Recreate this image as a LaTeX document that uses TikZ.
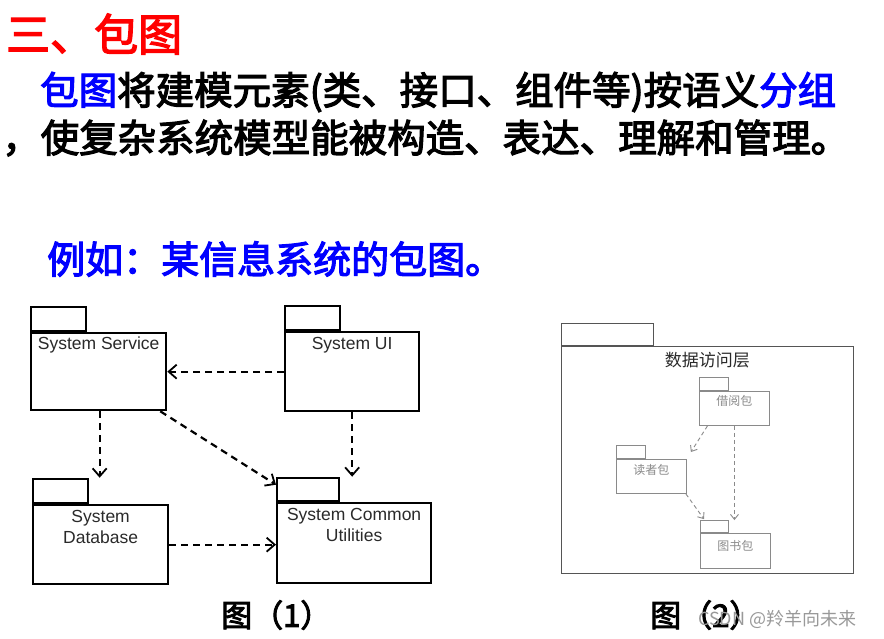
\documentclass[tikz,border=0pt]{standalone}
\usepackage{fontspec}
\setmainfont{Liberation Sans}
\newfontfamily\cjk{Noto Sans CJK SC}
\newfontfamily\cjkheavy{Noto Sans CJK SC}[FakeBold=3]
\usepackage{xcolor}
\usetikzlibrary{arrows.meta,positioning}

\definecolor{titlered}{HTML}{FF0000}
\definecolor{keyblue}{HTML}{0000FF}
\definecolor{labelgray}{HTML}{2A2A2A}
\definecolor{thingray}{HTML}{555555}
\definecolor{lightgray}{HTML}{8A8A8A}

\begin{document}
\begin{tikzpicture}[
  x=1pt, y=-1pt,
  pkg/.style={draw, line width=2.3pt, inner sep=0pt, anchor=north west},
  pkgtab/.style={draw, line width=2.3pt, inner sep=0pt, anchor=south west,
    minimum width=55, minimum height=24},
  pkglabel/.style={font=\fontsize{17.5}{21}\selectfont, text=labelgray,
    align=center, inner sep=0pt},
  thinpkg/.style={draw=lightgray, line width=0.9pt, inner sep=0pt, anchor=north west},
  thintab/.style={draw=lightgray, line width=0.9pt, inner sep=0pt, anchor=south west},
  dep/.style={-{Straight Barb[length=8pt, width=14pt, line width=1.8pt]},
    line width=2.2pt, dash pattern=on 7pt off 5pt},
  thindep/.style={-{Straight Barb[length=5pt, width=8pt]}, draw=lightgray,
    line width=0.9pt, dash pattern=on 4pt off 3pt},
  head/.style={inner sep=0pt, anchor=west, font=\cjkheavy\fontsize{38.5}{42}\selectfont}
]
\useasboundingbox[fill=white] (0,0) rectangle (884,638);

% heading and text
\node[head, text=titlered, font=\cjkheavy\fontsize{44}{48}\selectfont]
  (title) at (6,34) {三、包图};
\node[head] (line1) at (40,92)
  {\textcolor{keyblue}{包图}将建模元素(类、接口、组件等)按语义\textcolor{keyblue}{分组}};
\node[head] (line2) at (2,138) {，使复杂系统模型能被构造、表达、理解和管理。};
\node[head, text=keyblue, font=\cjkheavy\fontsize{38}{42}\selectfont]
  (example) at (47,259) {例如：某信息系统的包图。};

% figure (1)
\node[pkg, minimum width=135, minimum height=77] (svc) at (30,332) {};
\node[pkgtab] (svctab) at (svc.north west) {};
\node[pkglabel, anchor=north] at ([yshift=-5pt]svc.north) {System Service};

\node[pkg, minimum width=134, minimum height=79] (ui) at (284,331) {};
\node[pkgtab] (uitab) at (ui.north west) {};
\node[pkglabel, anchor=north] at ([yshift=-6pt]ui.north) {System UI};

\node[pkg, minimum width=135, minimum height=79] (db) at (32,504) {};
\node[pkgtab] (dbtab) at (db.north west) {};
\node[pkglabel, anchor=north] at ([yshift=-6pt]db.north) {System\\Database};

\node[pkg, minimum width=154, minimum height=80] (util) at (276,502) {};
\node[pkgtab, minimum width=62, minimum height=23] (utiltab) at (util.north west) {};
\node[pkglabel, anchor=north] at ([yshift=-6pt]util.north) {System Common\\Utilities};

\draw[dep] (ui.west) -- (svc.east |- ui.west);
\draw[dep] ([xshift=1pt]svc.south) -- ([xshift=1pt]svc.south |- dbtab.north);
\draw[dep] ([xshift=-7pt]svc.south east) -- ([yshift=-8pt]utiltab.north west);
\draw[dep] (ui.south) -- (ui.south |- utiltab.north);
\draw[dep] (db.east) -- (db.east -| util.west);

% figure (2)
\node[draw=thingray, line width=0.9pt, inner sep=0pt, anchor=north west,
  minimum width=292, minimum height=227] (layer) at (561,346) {};
\node[draw=thingray, line width=0.9pt, inner sep=0pt, anchor=south west,
  minimum width=92, minimum height=22] (layertab) at (layer.north west) {};
\node[inner sep=0pt, anchor=north, text=labelgray,
  font=\cjk\fontsize{17}{20}\selectfont] at ([yshift=-6pt]layer.north) {数据访问层};

\node[thinpkg, minimum width=70, minimum height=34] (borrow) at (699,391) {};
\node[thintab, minimum width=29, minimum height=13] (borrowtab) at (borrow.north west) {};
\node[inner sep=0pt, anchor=north, text=lightgray,
  font=\cjk\fontsize{12}{14}\selectfont] at ([yshift=-4pt]borrow.north) {借阅包};

\node[thinpkg, minimum width=70, minimum height=34] (reader) at (616,459) {};
\node[thintab, minimum width=29, minimum height=13] (readertab) at (reader.north west) {};
\node[inner sep=0pt, anchor=north, text=lightgray,
  font=\cjk\fontsize{12}{14}\selectfont] at ([yshift=-5pt]reader.north) {读者包};

\node[thinpkg, minimum width=70, minimum height=35] (book) at (700,533) {};
\node[thintab, minimum width=28, minimum height=12] (booktab) at (book.north west) {};
\node[inner sep=0pt, anchor=north, text=lightgray,
  font=\cjk\fontsize{12}{14}\selectfont] at ([yshift=-7pt]book.north) {图书包};

\draw[thindep] ([xshift=-27pt]borrow.south) -- ([xshift=4pt, yshift=7pt]reader.north east);
\draw[thindep] ([xshift=-1pt]reader.south east) -- ([xshift=4pt, yshift=1pt]booktab.north west);
\draw[thindep] (borrow.south) -- (borrow.south |- booktab.north);

% captions
\node[inner sep=0pt, anchor=west, font=\cjkheavy\fontsize{31}{33}\selectfont]
  (cap1) at (221,615) {图（1）};
\node[inner sep=0pt, anchor=west, font=\cjkheavy\fontsize{31}{33}\selectfont]
  (cap2) at (650,615) {图（2）};
\node[inner sep=0pt, anchor=west, text=black!40, font=\cjk\fontsize{18}{20}\selectfont]
  (mark) at (698,619) {CSDN @羚羊向未来};
\end{tikzpicture}
\end{document}
